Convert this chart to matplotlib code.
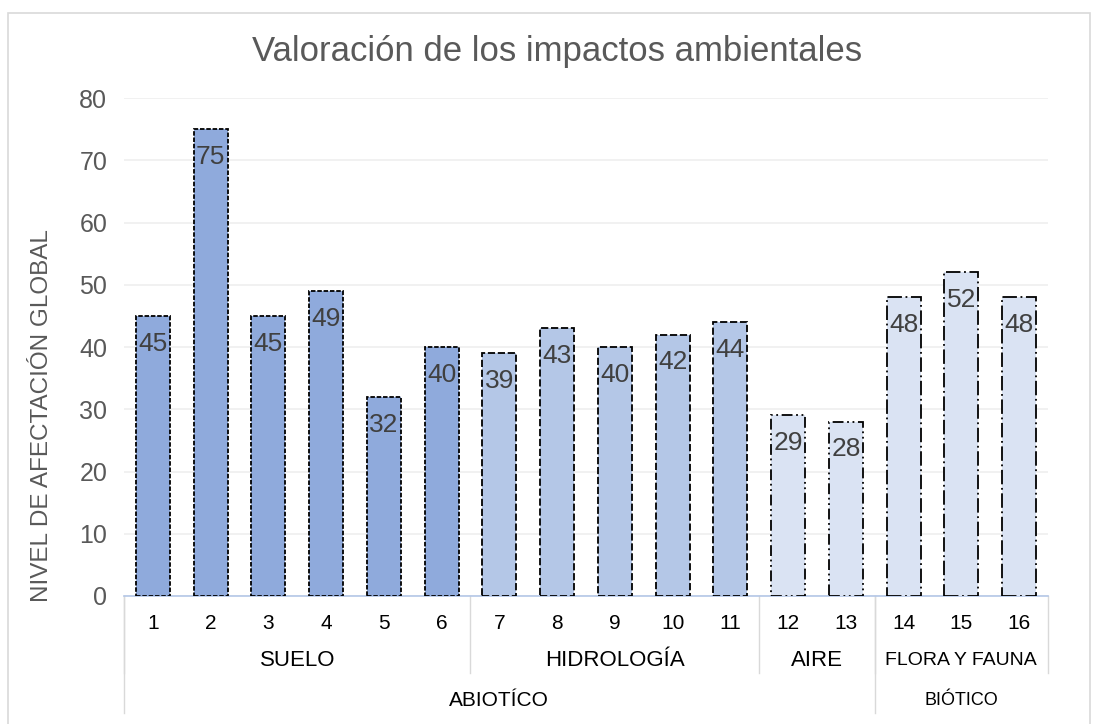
import matplotlib.pyplot as plt
import matplotlib.transforms as mtransforms
from matplotlib.patches import Rectangle

plt.rcParams['font.family'] = ['Liberation Sans', 'DejaVu Sans']

# data
impacts = list(range(1, 17))
values = [45, 75, 45, 49, 32, 40, 39, 43, 40, 42, 44, 29, 28, 48, 52, 48]
groups = ['SUELO', 'HIDROLOGÍA', 'AIRE', 'FLORA Y FAUNA']
group_sizes = [6, 5, 2, 3]
group_colors = ['#8faadc', '#b4c7e7', '#dae3f3', '#dae3f3']
group_dashes = [(0, (2.5, 1)), (0, (4, 1.5)), (0, (6, 2, 1, 2, 1, 2)), (0, (8, 2, 1, 2))]
families = ['ABIOTÍCO', 'BIÓTICO']
family_sizes = [13, 3]

fig = plt.figure(figsize=(11, 7.24), dpi=100)
ax = fig.add_axes([0.1127, 0.1768, 0.84, 0.6878])

# outer chart border
fig.patches.append(Rectangle((8 / 1100, -0.01), 1082 / 1100, 1 - 13 / 724 + 0.01,
                             transform=fig.transFigure, fill=False,
                             edgecolor='#d9d9d9', linewidth=1.2))

start = 0
for g, n in enumerate(group_sizes):
    xs = impacts[start:start + n]
    vs = values[start:start + n]
    ax.bar(xs, vs, width=0.59, color=group_colors[g], edgecolor='black',
           linewidth=1.3, linestyle=group_dashes[g], zorder=3)
    start += n

for x, v in zip(impacts, values):
    ax.annotate(str(v), (x, v), xytext=(0, -20), textcoords='offset points',
                ha='center', va='center', fontsize=19, color='#404040', zorder=4)

ax.set_xlim(0.5, 16.5)
ax.set_ylim(0, 80)
ax.set_yticks(range(0, 81, 10))
ax.tick_params(axis='y', length=0, labelsize=18, labelcolor='#595959', pad=12)
ax.tick_params(axis='x', length=0, labelsize=15, labelcolor='#000000', pad=13)
ax.set_xticks(impacts)
ax.set_xticklabels([str(i) for i in impacts])
ax.grid(axis='y', color='#efefef', linewidth=1.2, zorder=0)
for s in ['top', 'right', 'left']:
    ax.spines[s].set_visible(False)
ax.spines['bottom'].set_color('#b4c7e7')
ax.spines['bottom'].set_linewidth(1.2)

fig.text(557 / 1100, 1 - 52 / 724, 'Valoración de los impactos ambientales',
         fontsize=25, color='#595959', ha='center', va='center')
fig.text(42 / 1100, 1 - 416 / 724, 'NIVEL DE AFECTACIÓN GLOBAL', fontsize=17.5,
         color='#595959', ha='center', va='center', rotation=90)

# multi-level category axis
tr = mtransforms.blended_transform_factory(ax.transData, ax.transAxes)
line_kw = dict(transform=tr, color='#d9d9d9', linewidth=1, clip_on=False)

start = 0.5
for g, n in enumerate(group_sizes):
    mid = start + n / 2
    fs = 14 if groups[g] == 'FLORA Y FAUNA' else 16
    ax.text(mid, -0.13, groups[g], transform=tr, ha='center', va='center',
            fontsize=fs, color='#000000')
    ax.plot([start, start], [0, -0.155], **line_kw)
    start += n
ax.plot([start, start], [0, -0.155], **line_kw)

start = 0.5
for f, n in enumerate(family_sizes):
    mid = start + n / 2
    fs = 13 if families[f] == 'BIÓTICO' else 15
    ax.text(mid, -0.21, families[f], transform=tr, ha='center', va='center',
            fontsize=fs, color='#000000')
    ax.plot([start, start], [0, -0.235], **line_kw)
    start += n

fig.savefig('out.png', dpi=100)
